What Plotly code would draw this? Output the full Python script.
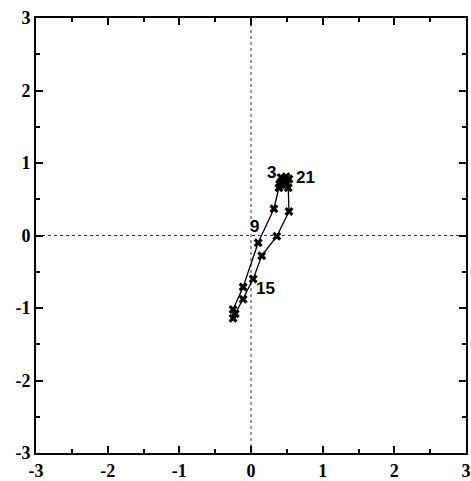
import plotly.graph_objects as go

hours = list(range(24))
x_vals = [0.46, 0.45, 0.47, 0.42, 0.43, 0.40, 0.42, 0.39, 0.32, 0.10, -0.11, -0.25,
          -0.25, -0.22, -0.11, 0.03, 0.15, 0.36, 0.53, 0.52, 0.50, 0.53, 0.49, 0.47]
y_vals = [0.75, 0.78, 0.77, 0.80, 0.74, 0.71, 0.70, 0.66, 0.37, -0.10, -0.71, -1.02,
          -1.14, -1.08, -0.88, -0.60, -0.28, -0.01, 0.33, 0.66, 0.71, 0.78, 0.81, 0.77]
label_hours = [3, 9, 15, 21]
tick_vals = [-3, -2, -1, 0, 1, 2, 3]
tick_text = ["-3", "-2", "-1", "0", "1", "2", "3"]

fig = go.Figure()
fig.add_trace(go.Scatter(
    x=x_vals + [x_vals[0]], y=y_vals + [y_vals[0]],
    mode="lines+markers",
    line=dict(color="black", width=1.3),
    marker=dict(symbol="x", size=8, color="black"),
    showlegend=False, hoverinfo="skip"))

offsets = {3: (-10, -5), 9: (-4, -16), 15: (12, 9), 21: (17, -1)}
for h in label_hours:
    dx, dy = offsets[h]
    fig.add_annotation(x=x_vals[h], y=y_vals[h], text=str(h), showarrow=False,
                       xshift=dx, yshift=-dy,
                       font=dict(family="Liberation Sans", size=17, color="black",
                                 weight="bold"))

fig.add_shape(type="line", x0=0, x1=0, y0=-3, y1=3, xref="x", yref="y",
              line=dict(color="#333333", width=1, dash="dot"), layer="below")
fig.add_shape(type="line", x0=-3, x1=3, y0=0, y1=0, xref="x", yref="y",
              line=dict(color="#333333", width=1, dash="dot"), layer="below")

axis_common = dict(
    range=[-3, 3], tickvals=tick_vals, ticktext=tick_text,
    ticks="inside", ticklen=7, tickwidth=2, tickcolor="black",
    showline=True, linecolor="black", linewidth=2, mirror="allticks",
    showgrid=False, zeroline=False, automargin=False,
    minor=dict(ticks="inside", ticklen=4, tickwidth=2, tickcolor="black", dtick=0.5,
               showgrid=False),
    tickfont=dict(family="Liberation Serif", size=18, color="black", weight="bold"),
)
fig.update_xaxes(ticklabelstandoff=0, **axis_common)
fig.update_yaxes(**axis_common)
fig.update_layout(
    width=471, height=481,
    margin=dict(l=36, r=5, t=18, b=28),
    paper_bgcolor="white", plot_bgcolor="white",
)
fig.write_html("out.html")
